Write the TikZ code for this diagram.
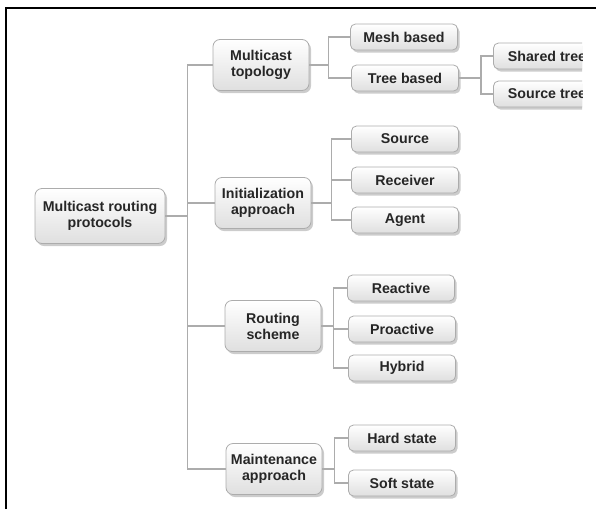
\documentclass[tikz,border=0pt]{standalone}
\usepackage{fontspec}
\setmainfont{Liberation Sans}
\usetikzlibrary{shadows}
\tikzset{
  box/.style={draw=gray!65, line width=0.8pt, rounded corners=7pt,
    top color=white, bottom color=gray!25,
    drop shadow={shadow xshift=2pt, shadow yshift=-2.5pt, opacity=0.4},
    align=center, text=black!85, inner sep=1pt,
    font=\fontsize{14.2}{16}\selectfont\bfseries},
  topbox/.style={box, minimum width=130pt, minimum height=55pt},
  midbox/.style={box, minimum width=96pt, minimum height=51pt},
  leafbox/.style={box, rounded corners=5pt, minimum width=107pt, minimum height=26pt},
  link/.style={draw=gray!65, line width=1.6pt}
}

\begin{document}
\begin{tikzpicture}[x=1pt, y=-1pt]
  \useasboundingbox (0,0) rectangle (596,509);
  \begin{scope}
    \clip (0,0) rectangle (582,509);
    \node[topbox] (root) at (100,216) {Multicast routing\\protocols};

    \node[midbox] (topo) at (261,65) {Multicast\\topology};
    \node[midbox] (init) at (263,203) {Initialization\\approach};
    \node[midbox] (rout) at (273,326) {Routing\\scheme};
    \node[midbox] (maint) at (274,469) {Maintenance\\approach};

    \node[leafbox] (mesh) at (404,37) {Mesh based};
    \node[leafbox] (tree) at (405,78) {Tree based};
    \node[leafbox] (shared) at (547,56) {Shared tree};
    \node[leafbox] (srctree) at (547,94) {Source tree};
    \node[leafbox] (source) at (405,139) {Source};
    \node[leafbox] (receiver) at (405,180) {Receiver};
    \node[leafbox] (agent) at (405,220) {Agent};
    \node[leafbox] (reactive) at (401,288) {Reactive};
    \node[leafbox] (proactive) at (402,329) {Proactive};
    \node[leafbox] (hybrid) at (402,368) {Hybrid};
    \node[leafbox] (hard) at (402,438) {Hard state};
    \node[leafbox] (soft) at (402,483) {Soft state};

    \draw[link] (root.east) -- ++(22,0) coordinate (j0);
    \foreach \n in {topo,init,rout,maint}
      \draw[link] (j0) |- (\n.west);

    \draw[link] (topo.east) -- ++(19,0) coordinate (j1);
    \foreach \n in {mesh,tree}
      \draw[link] (j1) |- (\n.west);

    \draw[link] (tree.east) -- ++(22,0) coordinate (j2);
    \foreach \n in {shared,srctree}
      \draw[link] (j2) |- (\n.west);

    \draw[link] (init.east) -- ++(20,0) coordinate (j3);
    \foreach \n in {source,receiver,agent}
      \draw[link] (j3) |- (\n.west);

    \draw[link] (rout.east) -- ++(12,0) coordinate (j4);
    \foreach \n in {reactive,proactive,hybrid}
      \draw[link] (j4) |- (\n.west);

    \draw[link] (maint.east) -- ++(12,0) coordinate (j5);
    \foreach \n in {hard,soft}
      \draw[link] (j5) |- (\n.west);
  \end{scope}
  \draw[line width=2.4pt] (6,509) -- (6,8) -- (596,8);
\end{tikzpicture}
\end{document}
